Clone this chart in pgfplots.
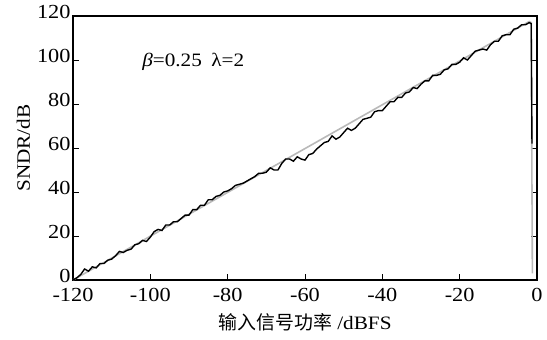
\documentclass[border=0pt]{standalone}
\usepackage{pgfplots}
\pgfplotsset{compat=1.18}
\usepackage{fontspec}
\setmainfont{Liberation Serif}[FakeStretch=1.12]
\newfontfamily\cjk{Noto Sans CJK SC}
\usetikzlibrary{calc}
\begin{document}
\begin{tikzpicture}
\begin{axis}[
  scale only axis, width=464bp, height=264bp,
  xmin=-120, xmax=0, ymin=0, ymax=120,
  xtick={-120,-100,...,0}, ytick={0,20,...,120},
  tick align=inside, xtick pos=bottom, ytick pos=both,
  major tick length=6bp,
  axis line style={line width=1.1pt},
  tick style={line width=1pt, black},
  /pgf/number format/assume math mode=true,
  ticklabel style={font=\fontsize{20}{22}\selectfont},
  xticklabel style={yshift=-7bp, inner ysep=1bp},
  yticklabel style={xshift=1bp, yshift=4bp, inner ysep=1bp},
  label style={font=\fontsize{19}{22}\selectfont},
  xlabel={{\cjk 输入信号功率} /dBFS},
  ylabel={SNDR/dB},
  xlabel style={yshift=-7bp},
  ylabel style={yshift=0bp},
  clip=true,
]
\addplot[gray!55, line width=1.6pt] coordinates {(-120,0) (-2,117.5) (-1.5,117) (-1.2,3)};
\addplot[black, line width=1.4pt] coordinates {
(-120,0) (-119,1) (-118,2.5) (-117,5) (-116,4) (-115,6) (-114,5.5) (-113,7.5) (-112,7.5) (-111,9)
(-110,9.5) (-109,11) (-108,13) (-107,12.5) (-106,13.5) (-105,14) (-104,16) (-103,16.5) (-102,18) (-101,17.5)
(-100,19.5) (-99,22) (-98,23) (-97,22.5) (-96,25) (-95,25) (-94,26.5) (-93,26.5) (-92,28) (-91,29.5)
(-90,29.5) (-89,32) (-88,32) (-87,34) (-86,34) (-85,36.5) (-84,36.5) (-83,38) (-82,38.5) (-81,40)
(-80,40.5) (-79,41.5) (-78,43) (-77,43.5) (-76,44) (-75,45) (-74,46) (-73,47) (-72,48.5) (-71,48.5)
(-70,49) (-69,51) (-68,50) (-67,50) (-66,53) (-65,55) (-64,55) (-63,54) (-62,56) (-61,55)
(-60,54.5) (-59,57) (-58,57.5) (-57,59.5) (-56,61) (-55,62.5) (-54,63) (-53,65.5) (-52,64) (-51,65)
(-50,67) (-49,69) (-48,68) (-47,69) (-46,71) (-45,73) (-44,73.5) (-43,74) (-42,76.5) (-41,77)
(-40,77) (-39,79) (-38,81) (-37,81) (-36,83) (-35,83) (-34,85) (-33,85.5) (-32,87.5) (-31,87)
(-30,89) (-29,90.5) (-28,90.5) (-27,93) (-26,93) (-25,93.5) (-24,95.5) (-23,96) (-22,98) (-21,98)
(-20,99) (-19,101) (-18,100) (-17,102) (-16,104) (-15,104.5) (-14,105) (-13,104.5) (-12,107) (-11,108.5)
(-10,108.5) (-9,111) (-8,111.5) (-7,111.5) (-6,114) (-5,114.5) (-4,116) (-3,116) (-2,117) (-1.5,116.5) (-1.3,62)
};
\node[anchor=west, font=\fontsize{19}{22}\selectfont] at (axis cs:-103,99) {\textit{β}=0.25\enspace λ=2};
\end{axis}
\pgfresetboundingbox
\path ($(current axis.south west)+(-73bp,-60bp)$) rectangle ($(current axis.north east)+(10bp,16bp)$);
\end{tikzpicture}
\end{document}
